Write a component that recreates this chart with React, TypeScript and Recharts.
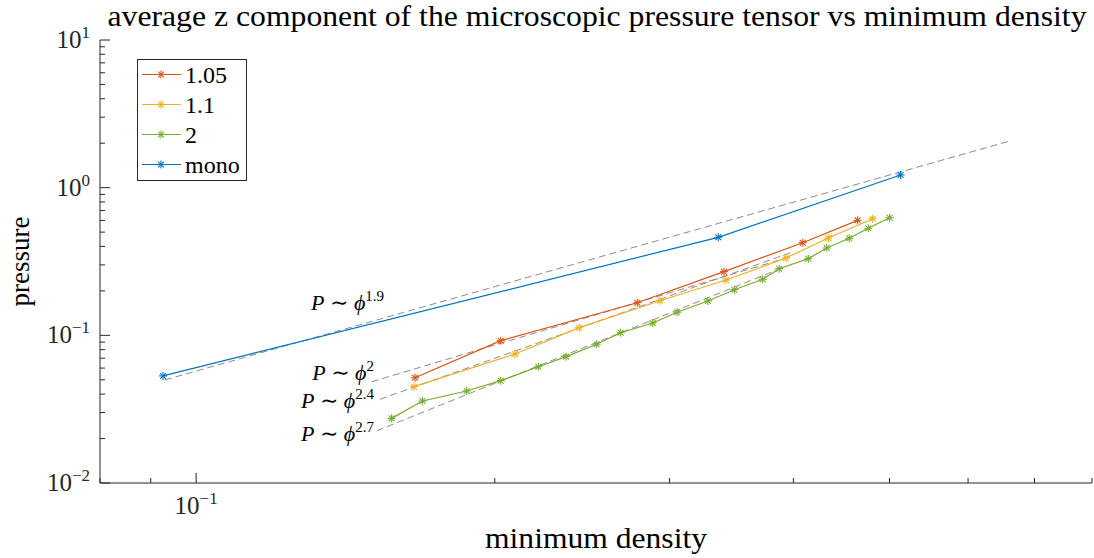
import React from "react";
import {
  ComposedChart,
  Line,
  XAxis,
  YAxis,
  ReferenceDot,
  Legend,
  Customized,
} from "recharts";

const W = 1094;
const H = 558;
const FONT = "'Liberation Serif', 'DejaVu Serif', serif";
const AX = "#262626";
const GUIDE = "#8c8c8c";

// minimum density (x) vs average p_zz (y)
const mono = [
  { x: 0.0926, y: 0.0531 },
  { x: 0.336, y: 0.461 },
  { x: 0.513, y: 1.219 },
];

const r105 = [
  { x: 0.1662, y: 0.0516 },
  { x: 0.2028, y: 0.092 },
  { x: 0.2784, y: 0.1663 },
  { x: 0.3405, y: 0.2698 },
  { x: 0.4088, y: 0.424 },
  { x: 0.4643, y: 0.601 },
];

const r11 = [
  { x: 0.1658, y: 0.0449 },
  { x: 0.2096, y: 0.0747 },
  { x: 0.2433, y: 0.1127 },
  { x: 0.2935, y: 0.1716 },
  { x: 0.3421, y: 0.2369 },
  { x: 0.3932, y: 0.334 },
  { x: 0.4338, y: 0.4562 },
  { x: 0.4808, y: 0.6166 },
];

const r2 = [
  { x: 0.1574, y: 0.0274 },
  { x: 0.1691, y: 0.0359 },
  { x: 0.1874, y: 0.042 },
  { x: 0.2028, y: 0.0493 },
  { x: 0.2213, y: 0.0613 },
  { x: 0.236, y: 0.0717 },
  { x: 0.2534, y: 0.087 },
  { x: 0.2679, y: 0.1042 },
  { x: 0.2886, y: 0.1212 },
  { x: 0.3054, y: 0.1432 },
  { x: 0.328, y: 0.1708 },
  { x: 0.3488, y: 0.2037 },
  { x: 0.3725, y: 0.2395 },
  { x: 0.3871, y: 0.2827 },
  { x: 0.4141, y: 0.3304 },
  { x: 0.4322, y: 0.3903 },
  { x: 0.4553, y: 0.454 },
  { x: 0.4759, y: 0.5308 },
  { x: 0.5002, y: 0.6261 },
];

// power-law guide segments (end points)
const fit19 = [
  { x: 0.093, y: 0.0499 },
  { x: 0.661, y: 2.07 },
];
const fit20 = [
  { x: 0.1503, y: 0.0485 },
  { x: 0.4, y: 0.345 },
];
const fit24 = [
  { x: 0.1532, y: 0.0369 },
  { x: 0.4, y: 0.3685 },
];
const fit27 = [
  { x: 0.1521, y: 0.0226 },
  { x: 0.388, y: 0.2827 },
];

// where the exponent labels sit (right end, baseline)
const guideLabels = [
  { exp: "1.9", x: 0.1547, y: 0.1484 },
  { exp: "2", x: 0.1511, y: 0.0498 },
  { exp: "2.4", x: 0.1511, y: 0.0322 },
  { exp: "2.7", x: 0.1511, y: 0.01926 },
];

const series = [
  { name: "1.05", color: "#D95319", data: r105 },
  { name: "1.1", color: "#EDB120", data: r11 },
  { name: "2", color: "#77AC30", data: r2 },
  { name: "mono", color: "#0072BD", data: mono },
];

const xTicks = [0.08, 0.09, 0.1, 0.2, 0.3, 0.4, 0.5, 0.6, 0.7, 0.8];
const yTicks = [
  0.01, 0.02, 0.03, 0.04, 0.05, 0.06, 0.07, 0.08, 0.09,
  0.1, 0.2, 0.3, 0.4, 0.5, 0.6, 0.7, 0.8, 0.9,
  1, 2, 3, 4, 5, 6, 7, 8, 9, 10,
];

const isMajor = (v: number) =>
  Math.abs(Math.log10(v) - Math.round(Math.log10(v))) < 1e-6;
const expText = (v: number) => {
  const e = Math.round(Math.log10(v));
  return e < 0 ? `\u2212${-e}` : `${e}`;
};
const tickLen = (v: number) => (isMajor(v) ? 10 : 5);

const BottomTick = ({ x, y, payload }: any) => {
  const v = payload.value;
  return (
    <g>
      <line x1={x} x2={x} y1={y} y2={y - tickLen(v)} stroke={AX} />
      {isMajor(v) && (
        <text x={x} y={y + 31} textAnchor="middle" fontFamily={FONT} fontSize={25} fill={AX}>
          <tspan>10</tspan>
          <tspan dy={-10} fontSize={17}>{expText(v)}</tspan>
        </text>
      )}
    </g>
  );
};

const TopTick = ({ x, y, payload }: any) => (
  <line x1={x} x2={x} y1={y} y2={y + tickLen(payload.value)} stroke={AX} />
);

const LeftTick = ({ x, y, payload }: any) => {
  const v = payload.value;
  return (
    <g>
      <line x1={x} x2={x + tickLen(v)} y1={y} y2={y} stroke={AX} />
      {isMajor(v) && (
        <text x={x - 10} y={y + 8} textAnchor="end" fontFamily={FONT} fontSize={25} fill={AX}>
          <tspan>10</tspan>
          <tspan dy={-10} fontSize={17}>{expText(v)}</tspan>
        </text>
      )}
    </g>
  );
};

const RightTick = ({ x, y, payload }: any) => (
  <line x1={x} x2={x - tickLen(payload.value)} y1={y} y2={y} stroke={AX} />
);

// MATLAB style '*' marker
const Star = ({ cx, cy, color }: any) => {
  if (cx == null || cy == null) return null;
  const s = 4;
  const d = 2.9;
  return (
    <g stroke={color} strokeWidth={1.1}>
      <line x1={cx - s} x2={cx + s} y1={cy} y2={cy} />
      <line x1={cx} x2={cx} y1={cy - s} y2={cy + s} />
      <line x1={cx - d} x2={cx + d} y1={cy - d} y2={cy + d} />
      <line x1={cx - d} x2={cx + d} y1={cy + d} y2={cy - d} />
    </g>
  );
};

const GuideLabel = ({ viewBox, exp }: any) => {
  if (!viewBox) return null;
  return (
    <text x={viewBox.x} y={viewBox.y} textAnchor="end" fontFamily={FONT} fontSize={22} fill="#000">
      <tspan fontStyle="italic">P</tspan>
      <tspan> {"\u223C"} </tspan>
      <tspan fontStyle="italic">{"\u03D5"}</tspan>
      <tspan dy={-9} fontSize={15}>{exp}</tspan>
    </text>
  );
};

const LegendBox = () => (
  <svg width={110} height={122} style={{ display: "block" }}>
    <rect x={0.5} y={0.5} width={109} height={121} fill="#fff" stroke={AX} />
    {series.map((s, i) => {
      const cy = 15.5 + i * 30;
      return (
        <g key={s.name}>
          <line x1={5} x2={44} y1={cy} y2={cy} stroke={s.color} strokeWidth={1.2} />
          <Star cx={24} cy={cy} color={s.color} />
          <text x={48} y={cy + 8} fontFamily={FONT} fontSize={24} fill="#000">
            {s.name}
          </text>
        </g>
      );
    })}
  </svg>
);

const Titles = () => (
  <g fontFamily={FONT} fill="#000">
    <text
      x={597}
      y={26}
      textAnchor="middle"
      fontSize={29}
      textLength={979}
      lengthAdjust="spacingAndGlyphs"
    >
      average z component of the microscopic pressure tensor vs minimum density
    </text>
    <text
      x={596}
      y={548}
      textAnchor="middle"
      fontSize={29}
      textLength={222}
      lengthAdjust="spacingAndGlyphs"
    >
      minimum density
    </text>
    <text
      x={29}
      y={261.5}
      textAnchor="middle"
      fontSize={27}
      transform="rotate(-90 29 261.5)"
    >
      pressure
    </text>
  </g>
);

export default function App() {
  return (
    <div style={{ position: "absolute", left: 0, top: 0, width: W, height: H, background: "#fff" }}>
      <ComposedChart width={W} height={H} margin={{ top: 40, right: 2, bottom: 0, left: 0 }}>
        <XAxis
          xAxisId={0}
          dataKey="x"
          type="number"
          scale="log"
          domain={[0.08, 0.8]}
          allowDataOverflow
          ticks={xTicks}
          interval={0}
          height={75}
          tickSize={0}
          tickMargin={0}
          tickLine={false}
          axisLine={{ stroke: AX }}
          tick={<BottomTick />}
        />
        <XAxis
          xAxisId="top"
          orientation="top"
          dataKey="x"
          type="number"
          scale="log"
          domain={[0.08, 0.8]}
          allowDataOverflow
          ticks={xTicks}
          interval={0}
          height={0}
          tickSize={0}
          tickMargin={0}
          tickLine={false}
          axisLine={{ stroke: AX }}
          tick={<TopTick />}
        />
        <YAxis
          yAxisId={0}
          type="number"
          scale="log"
          domain={[0.01, 10]}
          allowDataOverflow
          ticks={yTicks}
          interval={0}
          width={100}
          tickSize={0}
          tickMargin={0}
          tickLine={false}
          axisLine={{ stroke: AX }}
          tick={<LeftTick />}
        />
        <YAxis
          yAxisId="right"
          orientation="right"
          type="number"
          scale="log"
          domain={[0.01, 10]}
          allowDataOverflow
          ticks={yTicks}
          interval={0}
          width={0}
          tickSize={0}
          tickMargin={0}
          tickLine={false}
          axisLine={{ stroke: AX }}
          tick={<RightTick />}
        />

        {[fit19, fit20, fit24, fit27].map((f, i) => (
          <Line
            key={`fit-${i}`}
            data={f}
            dataKey="y"
            type="linear"
            stroke={GUIDE}
            strokeWidth={1}
            strokeDasharray="7 4"
            dot={false}
            activeDot={false}
            legendType="none"
            isAnimationActive={false}
          />
        ))}

        {series.map((s) => (
          <Line
            key={s.name}
            name={s.name}
            data={s.data}
            dataKey="y"
            type="linear"
            stroke={s.color}
            strokeWidth={1.2}
            dot={(p: any) => <Star key={`${s.name}-${p.index}`} cx={p.cx} cy={p.cy} color={s.color} />}
            activeDot={false}
            isAnimationActive={false}
          />
        ))}

        {guideLabels.map((g) => (
          <ReferenceDot
            key={g.exp}
            x={g.x}
            y={g.y}
            r={0}
            fill="none"
            stroke="none"
            label={<GuideLabel exp={g.exp} />}
          />
        ))}

        <Customized component={<Titles />} />
        <Legend
          layout="vertical"
          align="center"
          verticalAlign="middle"
          wrapperStyle={{ left: 137, top: 59, width: 110, height: 122 }}
          content={<LegendBox />}
        />
      </ComposedChart>
    </div>
  );
}
